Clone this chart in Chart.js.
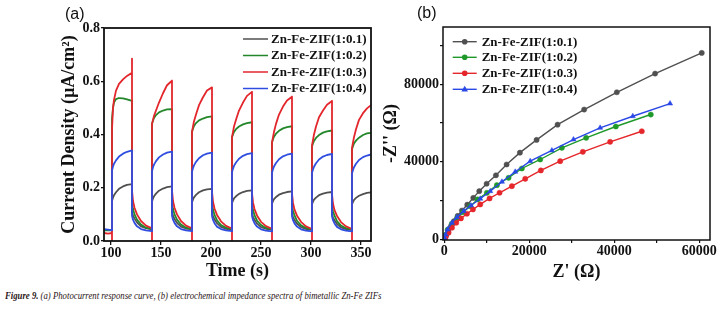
<!DOCTYPE html>
<html><head><meta charset="utf-8">
<script src="https://cdn.jsdelivr.net/npm/chart.js@4.4.1/dist/chart.umd.min.js"></script>
<style>
html,body{margin:0;padding:0;background:#fff;}
#wrap{position:relative;width:728px;height:314px;overflow:hidden;background:#fff;}
#ca{position:absolute;left:0;top:0;width:385px;height:285px;}
#cb{position:absolute;left:380px;top:0;width:348px;height:285px;}
.pl{position:absolute;font-family:"Liberation Sans",Arial,sans-serif;font-size:16px;color:#111;line-height:18px;}
#cap{position:absolute;left:5px;top:290px;font-family:"Liberation Serif","Times New Roman",serif;font-style:italic;font-size:10.5px;color:#2a1515;white-space:nowrap;transform:scaleX(0.83);transform-origin:0 0;}
</style></head><body>
<div id="wrap">
<canvas id="ca" width="385" height="285"></canvas>
<canvas id="cb" width="348" height="285"></canvas>
<div class="pl" style="left:65px;top:5px">(a)</div>
<div class="pl" style="left:417px;top:4px">(b)</div>
<div id="cap"><b>Figure 9.</b> (a) Photocurrent response curve, (b) electrochemical impedance spectra of bimetallic Zn-Fe ZIFs</div>
</div>
<script>
// ---------- Panel (a): photocurrent response ----------
const seriesNames = ['Zn-Fe-ZIF(1:0.1)', 'Zn-Fe-ZIF(1:0.2)', 'Zn-Fe-ZIF(1:0.3)', 'Zn-Fe-ZIF(1:0.4)'];

const timeS = [93, 97,
 101,101,101,102,103,105,108,112,116,121,121,121,122,123.5,126,130,135,
 141,141,141,142,143,145,148,152,156,161,161,161,162,163.5,166,170,175,
 181,181,181,182,183,185,188,192,196,201,201,201,202,203.5,206,210,215,
 221,221,221,222,223,225,228,232,236,241,241,241,242,243.5,246,250,255,
 261,261,261,262,263,265,268,272,276,281,281,281,282,283.5,286,290,295,
 301,301,301,302,303,305,308,312,316,321,321,321,322,323.5,326,330,335,
 341,341,341,342,343,345,348,352,356,360];

const curA01 = [0.042, 0.042,
 0.042,0.042,0.150,0.163,0.172,0.183,0.196,0.205,0.211,0.214,0.214,0.110,0.095,0.085,0.070,0.055,0.048,
 0.044,0.044,0.148,0.160,0.168,0.178,0.189,0.197,0.202,0.205,0.205,0.108,0.094,0.083,0.068,0.054,0.047,
 0.044,0.044,0.145,0.156,0.164,0.173,0.183,0.190,0.194,0.196,0.196,0.106,0.092,0.082,0.067,0.053,0.046,
 0.043,0.043,0.142,0.152,0.160,0.168,0.177,0.184,0.188,0.190,0.190,0.104,0.090,0.080,0.066,0.052,0.046,
 0.043,0.043,0.140,0.150,0.157,0.165,0.174,0.180,0.184,0.186,0.186,0.102,0.089,0.079,0.065,0.052,0.045,
 0.042,0.042,0.138,0.148,0.155,0.163,0.172,0.178,0.182,0.184,0.184,0.100,0.088,0.078,0.064,0.051,0.045,
 0.042,0.042,0.137,0.147,0.154,0.162,0.170,0.176,0.181,0.183];

const curA02 = [0.040, 0.040,
 0.040,0.040,0.460,0.500,0.520,0.533,0.537,0.536,0.532,0.526,0.526,0.140,0.120,0.100,0.080,0.062,0.050,
 0.045,0.045,0.440,0.452,0.462,0.473,0.483,0.490,0.494,0.495,0.495,0.140,0.120,0.100,0.080,0.062,0.050,
 0.045,0.045,0.410,0.422,0.432,0.443,0.453,0.460,0.465,0.468,0.468,0.138,0.118,0.098,0.078,0.060,0.050,
 0.044,0.044,0.390,0.400,0.410,0.420,0.430,0.438,0.443,0.446,0.446,0.136,0.116,0.097,0.077,0.060,0.049,
 0.044,0.044,0.370,0.382,0.392,0.403,0.414,0.423,0.428,0.431,0.431,0.134,0.114,0.096,0.076,0.059,0.049,
 0.043,0.043,0.355,0.366,0.376,0.387,0.398,0.407,0.412,0.415,0.415,0.132,0.112,0.095,0.075,0.058,0.048,
 0.043,0.043,0.345,0.356,0.366,0.377,0.388,0.398,0.404,0.406];

const curA03 = [0.030, 0.028,
 0.030,0.000,0.420,0.500,0.530,0.565,0.590,0.607,0.620,0.632,0.685,0.190,0.150,0.125,0.100,0.075,0.058,
 0.048,0.000,0.440,0.455,0.470,0.490,0.520,0.555,0.585,0.602,0.602,0.190,0.150,0.125,0.100,0.075,0.058,
 0.048,0.000,0.410,0.430,0.450,0.475,0.510,0.540,0.565,0.577,0.577,0.185,0.148,0.122,0.098,0.074,0.057,
 0.047,0.000,0.390,0.410,0.430,0.455,0.490,0.520,0.545,0.560,0.560,0.180,0.145,0.120,0.096,0.072,0.056,
 0.046,0.000,0.370,0.390,0.410,0.440,0.475,0.505,0.528,0.542,0.542,0.178,0.143,0.118,0.095,0.072,0.055,
 0.045,0.000,0.360,0.380,0.400,0.430,0.465,0.490,0.512,0.526,0.526,0.175,0.140,0.116,0.094,0.071,0.055,
 0.045,0.000,0.350,0.370,0.390,0.420,0.455,0.480,0.498,0.510];

const curA04 = [0.045, 0.043,
 0.040,0.040,0.265,0.280,0.290,0.303,0.317,0.328,0.335,0.340,0.340,0.095,0.080,0.068,0.055,0.045,0.040,
 0.037,0.037,0.262,0.277,0.287,0.300,0.314,0.325,0.332,0.336,0.336,0.095,0.080,0.068,0.055,0.045,0.040,
 0.037,0.037,0.260,0.274,0.284,0.297,0.311,0.322,0.328,0.332,0.332,0.094,0.079,0.067,0.054,0.045,0.040,
 0.037,0.037,0.258,0.272,0.282,0.295,0.309,0.320,0.326,0.330,0.330,0.094,0.079,0.067,0.054,0.044,0.039,
 0.036,0.036,0.256,0.270,0.280,0.293,0.307,0.318,0.324,0.328,0.328,0.093,0.078,0.066,0.054,0.044,0.039,
 0.036,0.036,0.255,0.269,0.279,0.292,0.306,0.317,0.323,0.327,0.327,0.093,0.078,0.066,0.053,0.044,0.039,
 0.036,0.036,0.253,0.267,0.277,0.290,0.304,0.315,0.321,0.325];

const xTicksA = [100, 150, 200, 250, 300, 350];
const yTicksA = [0.0, 0.2, 0.4, 0.6, 0.8];

// ---------- Panel (b): Nyquist plot ----------
const zRe01 = [0,150,450,950,1550,2300,3150,4150,5410,6820,8230,9960,12150,14660,17790,21710,26650,32900,40580,49590,60560];
const zIm01 = [0,700,2300,4400,6800,9400,12100,14900,17900,21400,24880,28700,33050,38630,44730,51310,59150,66950,75860,85490,96150];
const zRe02 = [0,80,300,800,1800,3000,4400,6110,7830,10030,12380,15120,18250,22560,27660,33370,40350,48570];
const zIm02 = [0,700,2400,5000,8200,11000,14000,17150,20600,24030,27980,31770,36560,41200,47230,52380,58200,64380];
const zRe03 = [0,100,400,1010,1810,2820,3920,5330,6740,8460,10650,13000,15900,19040,22720,27260,32590,39010,46460];
const zIm03 = [0,400,1500,3450,6030,8600,10820,13240,15450,18030,21120,24050,27450,31260,35540,40330,45170,50320,55770];
const zRe04 = [0,80,300,780,1810,2980,4540,6270,8460,10810,13560,16690,20210,25310,30390,36660,44340,53100];
const zIm04 = [0,700,2500,5150,8600,11480,14580,17510,20960,24870,29710,34870,40330,45840,51500,57530,63500,70040];

const xTicksB = [0, 10000, 20000, 30000, 40000, 50000, 60000];
const xLabelsB = [0, 20000, 40000, 60000];
const yTicksB = [0, 20000, 40000, 60000, 80000, 100000];
const yLabelsB = [0, 40000, 80000];

// ---------- styling ----------
const colorsA = ['#505050', '#23872a', '#e3262c', '#2f4ee0'];
const colorsB = ['#505050', '#1f9a2a', '#e5262a', '#2a48e6'];
const markersB = ['circle', 'circle', 'circle', 'triangle'];
const serif = '"Liberation Serif","Times New Roman",serif';
const INK = '#111';

function framePlugin(leg) {
  return {
    id: 'frameLegend',
    afterDatasetsDraw(chart) {
      const {ctx, chartArea: a} = chart;
      ctx.save();
      ctx.strokeStyle = INK;
      ctx.lineWidth = leg.frameWidth;
      ctx.strokeRect(a.left, a.top, a.right - a.left, a.bottom - a.top);
      ctx.font = 'bold 13px ' + serif;
      ctx.textBaseline = 'middle';
      ctx.fillStyle = INK;
      chart.data.datasets.forEach((ds, i) => {
        const y = leg.rows[i];
        ctx.strokeStyle = ds.borderColor;
        ctx.lineWidth = leg.lineWidth;
        ctx.beginPath(); ctx.moveTo(leg.x0, y); ctx.lineTo(leg.x1, y); ctx.stroke();
        if (leg.markers) {
          const mx = (leg.x0 + leg.x1) / 2;
          ctx.fillStyle = ds.borderColor;
          ctx.beginPath();
          if (leg.markers[i] === 'triangle') {
            ctx.moveTo(mx, y - 3.5); ctx.lineTo(mx + 3.3, y + 2.3); ctx.lineTo(mx - 3.3, y + 2.3); ctx.closePath();
          } else {
            ctx.arc(mx, y, 2.8, 0, Math.PI * 2);
          }
          ctx.fill();
        }
        ctx.fillStyle = INK;
        ctx.fillText(ds.label, leg.tx, y + 0.5);
      });
      ctx.restore();
    }
  };
}

const tickFont = {family: serif, weight: 'bold', size: 14};
const titleFont = {family: serif, weight: 'bold', size: 18};

new Chart(document.getElementById('ca'), {
  type: 'line',
  data: {
    datasets: [curA01, curA02, curA03, curA04].map((arr, i) => ({
      label: seriesNames[i],
      data: timeS.map((t, k) => ({x: t, y: arr[k]})),
      borderColor: colorsA[i],
      borderWidth: 1.8,
      borderJoinStyle: 'round',
      pointRadius: 0,
      tension: 0,
      fill: false,
      order: [3, 2, 1, 0][i]
    }))
  },
  options: {
    responsive: false, animation: false, events: [],
    layout: {padding: {left: 0, top: 28, right: 14, bottom: 0}},
    plugins: {legend: {display: false}, tooltip: {enabled: false}},
    scales: {
      x: {
        type: 'linear', min: 93, max: 360,
        afterBuildTicks(s) { s.ticks = xTicksA.map(v => ({value: v})); },
        afterFit(s) { s.height = 44; },
        ticks: {font: tickFont, color: INK, padding: 0, maxRotation: 0, autoSkip: false, callback: v => String(v)},
        grid: {drawOnChartArea: false, tickLength: 4, color: INK, lineWidth: 1.3},
        border: {display: false},
        title: {display: true, text: 'Time (s)', font: titleFont, color: INK, padding: {top: 0, bottom: 3}}
      },
      y: {
        type: 'linear', min: 0, max: 0.8,
        afterBuildTicks(s) { s.ticks = yTicksA.map(v => ({value: v})); },
        afterFit(s) { s.width = 104; },
        ticks: {font: tickFont, color: INK, padding: 1, autoSkip: false, callback: v => Number(v).toFixed(1)},
        grid: {drawOnChartArea: false, tickLength: 3, color: INK, lineWidth: 1.3},
        border: {display: false},
        title: {display: true, text: 'Current Density (µA/cm²)', font: titleFont, color: INK, padding: {top: 59, bottom: 0}}
      }
    }
  },
  plugins: [framePlugin({frameWidth: 1.8, lineWidth: 1.5, x0: 243, x1: 268, tx: 271, rows: [39, 55.5, 72, 88.5]})]
});

new Chart(document.getElementById('cb'), {
  type: 'line',
  data: {
    datasets: [[zRe01, zIm01], [zRe02, zIm02], [zRe03, zIm03], [zRe04, zIm04]].map(([xr, yi], i) => ({
      label: seriesNames[i],
      data: xr.map((x, k) => ({x: x, y: yi[k]})),
      borderColor: colorsB[i],
      backgroundColor: colorsB[i],
      pointBackgroundColor: colorsB[i],
      pointBorderColor: colorsB[i],
      pointStyle: markersB[i],
      pointRadius: markersB[i] === 'triangle' ? 3 : 2.6,
      pointBorderWidth: 0.5,
      borderWidth: 1.4,
      tension: 0,
      fill: false,
      order: [3, 2, 1, 0][i]
    }))
  },
  options: {
    responsive: false, animation: false, events: [],
    layout: {padding: {left: 0, top: 27, right: 18, bottom: 0}},
    plugins: {legend: {display: false}, tooltip: {enabled: false}},
    scales: {
      x: {
        type: 'linear', min: -300, max: 62500,
        afterBuildTicks(s) { s.ticks = xTicksB.map(v => ({value: v})); },
        afterFit(s) { s.height = 45; },
        ticks: {font: tickFont, color: INK, padding: 0, maxRotation: 0, autoSkip: false,
                callback: v => xLabelsB.includes(v) ? String(v) : ''},
        grid: {drawOnChartArea: false, tickLength: 3, color: INK, lineWidth: 1.2},
        border: {display: false},
        title: {display: true, text: "Z' (Ω)", font: titleFont, color: INK, padding: {top: 0, bottom: 2}}
      },
      y: {
        type: 'linear', min: -300, max: 109500,
        afterBuildTicks(s) { s.ticks = yTicksB.map(v => ({value: v})); },
        afterFit(s) { s.width = 63; },
        ticks: {font: tickFont, color: INK, padding: 1, autoSkip: false,
                callback: v => yLabelsB.includes(v) ? String(v) : ''},
        grid: {drawOnChartArea: false, tickLength: 3, color: INK, lineWidth: 1.2},
        border: {display: false},
        title: {display: true, text: "-Z'' (Ω)", font: titleFont, color: INK, padding: {top: 1, bottom: 0}}
      }
    }
  },
  plugins: [framePlugin({frameWidth: 1.5, lineWidth: 1.4, x0: 72.7, x1: 96.7, tx: 101.7, rows: [41.7, 57.3, 73.3, 89.3], markers: markersB})]
});
</script>
</body></html>
